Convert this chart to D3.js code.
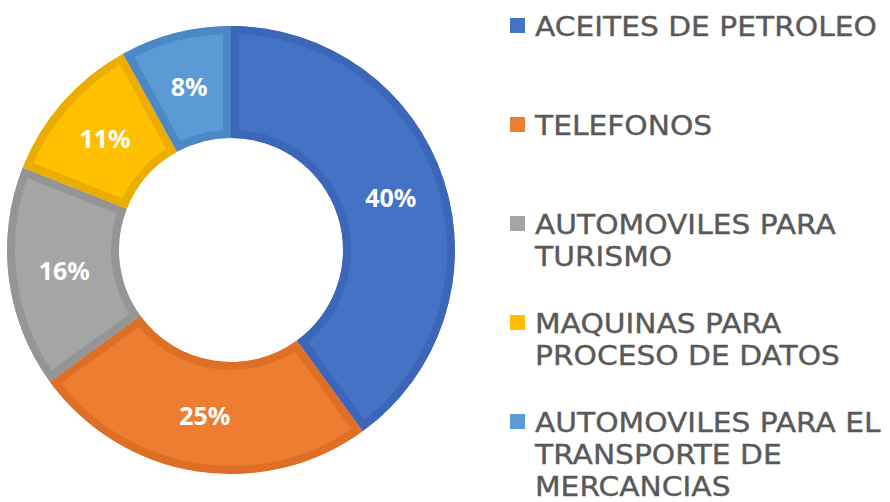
<!DOCTYPE html>
<html>
<head>
<meta charset="utf-8">
<script src="https://cdn.jsdelivr.net/npm/d3@7"></script>
<style>
  html, body { margin: 0; padding: 0; background: #ffffff; }
  svg { display: block; }
</style>
</head>
<body>
<svg id="chart" width="890" height="502"></svg>
<script>
const categories = [
  "ACEITES DE PETROLEO",
  "TELEFONOS",
  "AUTOMOVILES PARA TURISMO",
  "MAQUINAS PARA PROCESO DE DATOS",
  "AUTOMOVILES PARA EL TRANSPORTE DE MERCANCIAS"
];
const values = [40, 25, 16, 11, 8];
const legendLines = [
  ["ACEITES DE PETROLEO"],
  ["TELEFONOS"],
  ["AUTOMOVILES PARA", "TURISMO"],
  ["MAQUINAS PARA", "PROCESO DE DATOS"],
  ["AUTOMOVILES PARA EL", "TRANSPORTE DE", "MERCANCIAS"]
];
const fillColors = ["#4472C4", "#ED7D31", "#A5A5A5", "#FFC000", "#5B9BD5"];
const borderColors = ["#3C67B8", "#DE6F27", "#959595", "#EBAE00", "#4C88C6"];

const svg = d3.select("#chart");
const cx = 231, cy = 250, outerR = 224, innerR = 112;

const pie = d3.pie().sort(null).value(d => d.value);
const data = pie(categories.map((c, i) => ({ cat: c, value: values[i], i })));
const arc = d3.arc().innerRadius(innerR).outerRadius(outerR);
const labelArc = d3.arc().innerRadius((innerR + outerR) / 2).outerRadius((innerR + outerR) / 2);
const total = d3.sum(values);

const defs = svg.append("defs");
const g = svg.append("g").attr("transform", `translate(${cx},${cy})`);

data.forEach((d, k) => {
  const id = "clip" + k;
  defs.append("clipPath").attr("id", id).append("path").attr("d", arc(d));
  g.append("path")
    .attr("d", arc(d))
    .attr("fill", fillColors[k])
    .attr("stroke", borderColors[k])
    .attr("stroke-width", 16)
    .attr("clip-path", `url(#${id})`);
});

g.selectAll("text.lbl")
  .data(data)
  .enter().append("text")
  .attr("class", "lbl")
  .attr("transform", d => `translate(${labelArc.centroid(d)})`)
  .attr("text-anchor", "middle")
  .attr("dy", "0.36em")
  .attr("fill", "#ffffff")
  .attr("font-family", "'Noto Sans', 'Liberation Sans', sans-serif")
  .attr("font-weight", 700)
  .attr("font-size", 25)
  .text(d => Math.round(d.value / total * 100) + "%");

// Legend
const legend = svg.append("g");
const textX = 535, firstBase = 36, entryStep = 99, lineStep = 32;
const textG = legend.append("g");
legendLines.forEach((lines, i) => {
  const base = firstBase + i * entryStep;
  legend.append("rect")
    .attr("x", 510).attr("y", base - 18)
    .attr("width", 15).attr("height", 15)
    .attr("fill", fillColors[i]);
  lines.forEach((ln, j) => {
    textG.append("text")
      .attr("x", 0)
      .attr("y", base + j * lineStep)
      .attr("fill", "#595959")
      .attr("stroke", "#595959")
      .attr("stroke-width", 0.35)
      .attr("font-family", "'DejaVu Sans', Verdana, sans-serif")
      .attr("font-size", 26)
      .text(ln);
  });
});
// stretch horizontally to match the reference width of the first line
const w0 = textG.select("text").node().getComputedTextLength();
const sx = 342 / w0;
textG.attr("transform", `translate(${textX},0) scale(${sx},1)`);
</script>
</body>
</html>
